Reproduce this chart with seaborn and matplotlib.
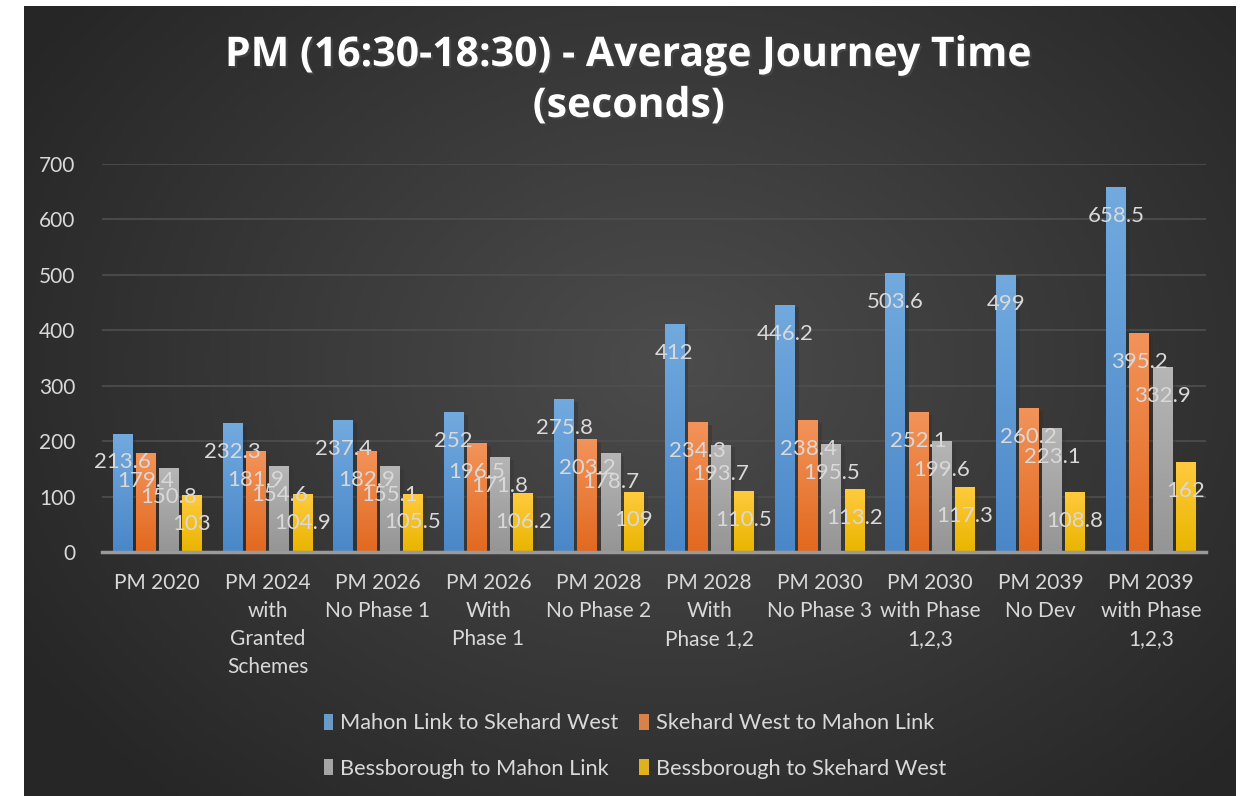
import numpy as np
import pandas as pd
import matplotlib.pyplot as plt
import matplotlib.colors as mcolors
import matplotlib.patheffects as pe
import seaborn as sns

categories = [
    "PM 2020",
    "PM 2024\nwith\nGranted\nSchemes",
    "PM 2026\nNo Phase 1",
    "PM 2026\nWith\nPhase 1",
    "PM 2028\nNo Phase 2",
    "PM 2028\nWith\nPhase 1,2",
    "PM 2030\nNo Phase 3",
    "PM 2030\nwith Phase\n1,2,3",
    "PM 2039\nNo Dev",
    "PM 2039\nwith Phase\n1,2,3",
]
routes = [
    "Mahon Link to Skehard West",
    "Skehard West to Mahon Link",
    "Bessborough to Mahon Link",
    "Bessborough to Skehard West",
]
mahon_to_skehard = [213.6, 232.3, 237.4, 252, 275.8, 412, 446.2, 503.6, 499, 658.5]
skehard_to_mahon = [179.4, 181.9, 182.9, 196.5, 203.2, 234.3, 238.4, 252.1, 260.2, 395.2]
bess_to_mahon = [150.8, 154.6, 155.1, 171.8, 178.7, 193.7, 195.5, 199.6, 223.1, 332.9]
bess_to_skehard = [103, 104.9, 105.5, 106.2, 109, 110.5, 113.2, 117.3, 108.8, 162]

colors = ["#5B9BD5", "#ED7D31", "#A5A5A5", "#FFC000"]
# top / bottom shades for the bar gradient
grad = [("#72AADF", "#4A87C8"), ("#F3935A", "#E2691F"),
        ("#B6B6B6", "#959595"), ("#FFCB3E", "#E9B500")]

df = pd.DataFrame({
    "Scenario": categories * 4,
    "Route": np.repeat(routes, len(categories)),
    "Seconds": mahon_to_skehard + skehard_to_mahon + bess_to_mahon + bess_to_skehard,
})

font = ["Lato", "DejaVu Sans"]
plt.rcParams["font.family"] = font
txt = "#D9D9D9"

fig = plt.figure(figsize=(12.43, 7.96), dpi=100)
fig.patch.set_facecolor("white")

# dark radial background panel
bg = fig.add_axes([24 / 1243, 0, (1236 - 24) / 1243, (796 - 6) / 796])
yy, xx = np.mgrid[0:200, 0:300]
r = np.sqrt(((xx - 160) / 190) ** 2 + ((yy - 90) / 150) ** 2)
cmap_bg = mcolors.LinearSegmentedColormap.from_list("bg", ["#4C4C4C", "#262626"])
bg.imshow(np.clip(r, 0, 1), cmap=cmap_bg, aspect="auto", vmin=0, vmax=1)
bg.set_axis_off()

ax = fig.add_axes([102 / 1243, 1 - 552 / 796, (1206 - 102) / 1243, (552 - 164) / 796])
ax.set_facecolor("none")

sns.barplot(data=df, x="Scenario", y="Seconds", hue="Route", palette=colors,
            width=0.84, gap=0.15, ax=ax, zorder=3, legend=True)

ax.set_ylim(0, 700)
ax.set_yticks(range(0, 701, 100))
ax.set_xlim(-0.5, len(categories) - 0.5)
ax.grid(axis="y", color="#4F4F4F", linewidth=1.2, zorder=0)
ax.set_axisbelow(True)
for s in ["top", "right", "left"]:
    ax.spines[s].set_visible(False)
ax.spines["bottom"].set_color("#9A9A9A")
ax.spines["bottom"].set_linewidth(2.5)
ax.spines["bottom"].set_zorder(5)
ax.tick_params(axis="both", length=0, labelsize=15, colors=txt)
ax.tick_params(axis="y", pad=19)
ax.tick_params(axis="x", pad=15)
for lbl in ax.get_xticklabels():
    lbl.set_linespacing(1.5)
ax.set_xlabel("")
ax.set_ylabel("")

# gradient fill for each bar
for i, cont in enumerate(ax.containers):
    top, bot = grad[i]
    cm = mcolors.LinearSegmentedColormap.from_list("g%d" % i, [bot, top])
    for p in cont.patches:
        x0, y0 = p.get_x(), p.get_y()
        w, h = p.get_width(), p.get_height()
        im = ax.imshow(np.linspace(0, 1, 100).reshape(-1, 1), cmap=cm,
                       extent=[x0, x0 + w, y0, y0 + h], origin="lower",
                       aspect="auto", zorder=3.5)
        im.set_clip_path(p)
        p.set_path_effects([pe.SimplePatchShadow(offset=(3, -2), alpha=0.35), pe.Normal()])
    ax.bar_label(cont, fmt="%g", padding=-28, fontsize=16, color=txt, zorder=6)

ax.set_xlim(-0.5, len(categories) - 0.5)
ax.set_ylim(0, 700)

handles, labels = ax.get_legend_handles_labels()
ax.get_legend().remove()
# legend fills column-wise, reorder so rows read like the original
order = [0, 2, 1, 3]
leg = fig.legend([handles[k] for k in order], [labels[k] for k in order], ncol=2,
                 loc="center", bbox_to_anchor=(635 / 1243, 1 - 746 / 796), frameon=False,
                 fontsize=15.7, handlelength=0.43, handleheight=0.8,
                 handletextpad=0.33, columnspacing=0.95, labelspacing=1.15)
for t in leg.get_texts():
    t.set_color(txt)

fig.text(629 / 1243, 1 - 81 / 796, "PM (16:30-18:30) - Average Journey Time\n(seconds)",
         ha="center", va="center", fontsize=29.5, fontweight="bold", color="white",
         family=["Open Sans", "DejaVu Sans"], linespacing=1.32,
         path_effects=[pe.withSimplePatchShadow(offset=(1.5, -1.5), alpha=0.6)])

fig.savefig("out.png", dpi=100, facecolor=fig.get_facecolor())
